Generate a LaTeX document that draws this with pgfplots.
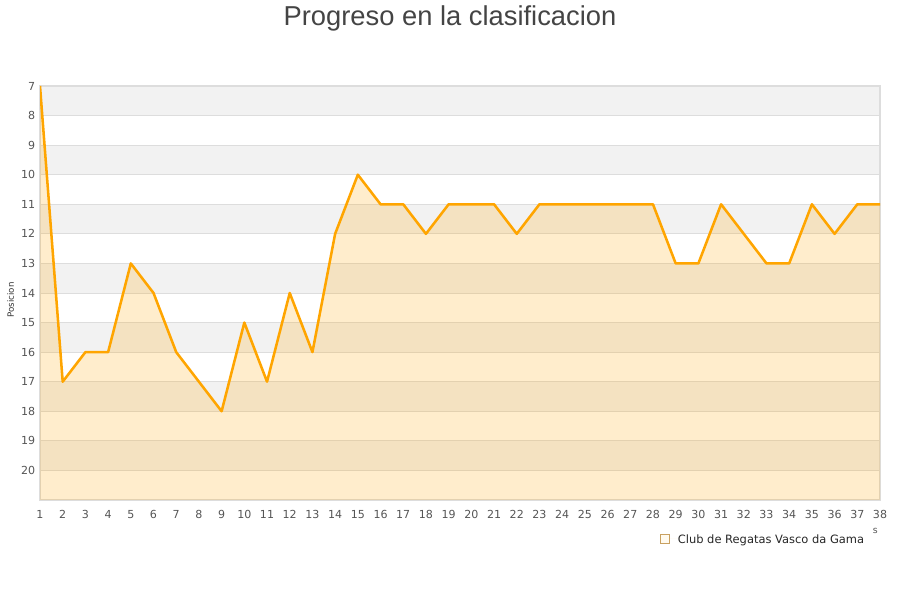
\documentclass[border=0pt]{standalone}
\usepackage{pgfplots}
\pgfplotsset{compat=1.18}
\usepackage{fontspec}
\setmainfont{DejaVu Sans}
\newfontfamily\titlefont{Liberation Sans}
\definecolor{tickc}{HTML}{555555}
\definecolor{titlec}{HTML}{444444}
\definecolor{bandg}{HTML}{F2F2F2}
\definecolor{gridc}{HTML}{DDDDDD}
\definecolor{linec}{HTML}{FFA500}
\definecolor{legfill}{HTML}{FFE4B0}
\definecolor{legdraw}{HTML}{C8A060}
\begin{document}
\begin{tikzpicture}
\path (0pt,0pt) rectangle (675pt,450pt);
\node[font=\titlefont\fontsize{20.5pt}{24pt}\selectfont, text=titlec] at (337.5pt,436pt) {Progreso en la clasificacion};
\node[rotate=90, font=\fontsize{6.5pt}{7pt}\selectfont, text=black!80] at (8pt,225pt) {Posicion};
\node[font=\fontsize{7pt}{8pt}\selectfont, text=tickc] at (656.5pt,51.5pt) {s};
\begin{axis}[
  set layers,
  at={(30pt,75pt)}, anchor=south west,
  scale only axis, width=630pt, height=310.5pt,
  xmin=1, xmax=38, ymin=7, ymax=21,
  y dir=reverse,
  xtick={1,...,38}, ytick={7,...,20},
  major tick length=0pt,
  ymajorgrids, grid style={gridc, line width=0.6pt},
  axis line style={gridc, line width=0.8pt},
  tick label style={font=\fontsize{8.3pt}{9pt}\selectfont, text=tickc},
  /pgf/number format/assume math mode=true,
  xticklabel style={yshift=-4.5pt},
  yticklabel style={xshift=0pt},
  clip=true,
  legend style={at={(0.738,-0.094)}, anchor=west, draw=none, fill=none, inner sep=0pt,
    font=\fontsize{8.6pt}{9pt}\selectfont, text=black!85,
    nodes={inner sep=0pt, text depth=0pt}},
  legend image post style={},
  legend cell align=left,
]
\addplot[on layer=axis background, fill=bandg, draw=none, forget plot] coordinates {(1,7) (38,7) (38,8) (1,8)} -- cycle;
\addplot[on layer=axis background, fill=bandg, draw=none, forget plot] coordinates {(1,9) (38,9) (38,10) (1,10)} -- cycle;
\addplot[on layer=axis background, fill=bandg, draw=none, forget plot] coordinates {(1,11) (38,11) (38,12) (1,12)} -- cycle;
\addplot[on layer=axis background, fill=bandg, draw=none, forget plot] coordinates {(1,13) (38,13) (38,14) (1,14)} -- cycle;
\addplot[on layer=axis background, fill=bandg, draw=none, forget plot] coordinates {(1,15) (38,15) (38,16) (1,16)} -- cycle;
\addplot[on layer=axis background, fill=bandg, draw=none, forget plot] coordinates {(1,17) (38,17) (38,18) (1,18)} -- cycle;
\addplot[on layer=axis background, fill=bandg, draw=none, forget plot] coordinates {(1,19) (38,19) (38,20) (1,20)} -- cycle;
\addplot[fill=linec, fill opacity=0.2, draw=none,
  legend image code/.code={\draw[fill=legfill, draw=legdraw, line width=0.5pt] (0pt,-3.2pt) rectangle (6.4pt,3.2pt); \path (6.4pt,0pt) -- (13pt,0pt);}]
  coordinates {(1,21) (1,7) (2,17) (3,16) (4,16) (5,13) (6,14) (7,16) (8,17) (9,18) (10,15)
  (11,17) (12,14) (13,16) (14,12) (15,10) (16,11) (17,11) (18,12) (19,11) (20,11)
  (21,11) (22,12) (23,11) (24,11) (25,11) (26,11) (27,11) (28,11) (29,13) (30,13)
  (31,11) (32,12) (33,13) (34,13) (35,11) (36,12) (37,11) (38,11) (38,21)} -- cycle;
\addlegendentry{Club de Regatas Vasco da Gama}
\addplot[linec, line width=1.9pt, line join=round, mark=none, forget plot]
  coordinates {(1,7) (2,17) (3,16) (4,16) (5,13) (6,14) (7,16) (8,17) (9,18) (10,15)
  (11,17) (12,14) (13,16) (14,12) (15,10) (16,11) (17,11) (18,12) (19,11) (20,11)
  (21,11) (22,12) (23,11) (24,11) (25,11) (26,11) (27,11) (28,11) (29,13) (30,13)
  (31,11) (32,12) (33,13) (34,13) (35,11) (36,12) (37,11) (38,11)};
\end{axis}
\end{tikzpicture}
\end{document}
